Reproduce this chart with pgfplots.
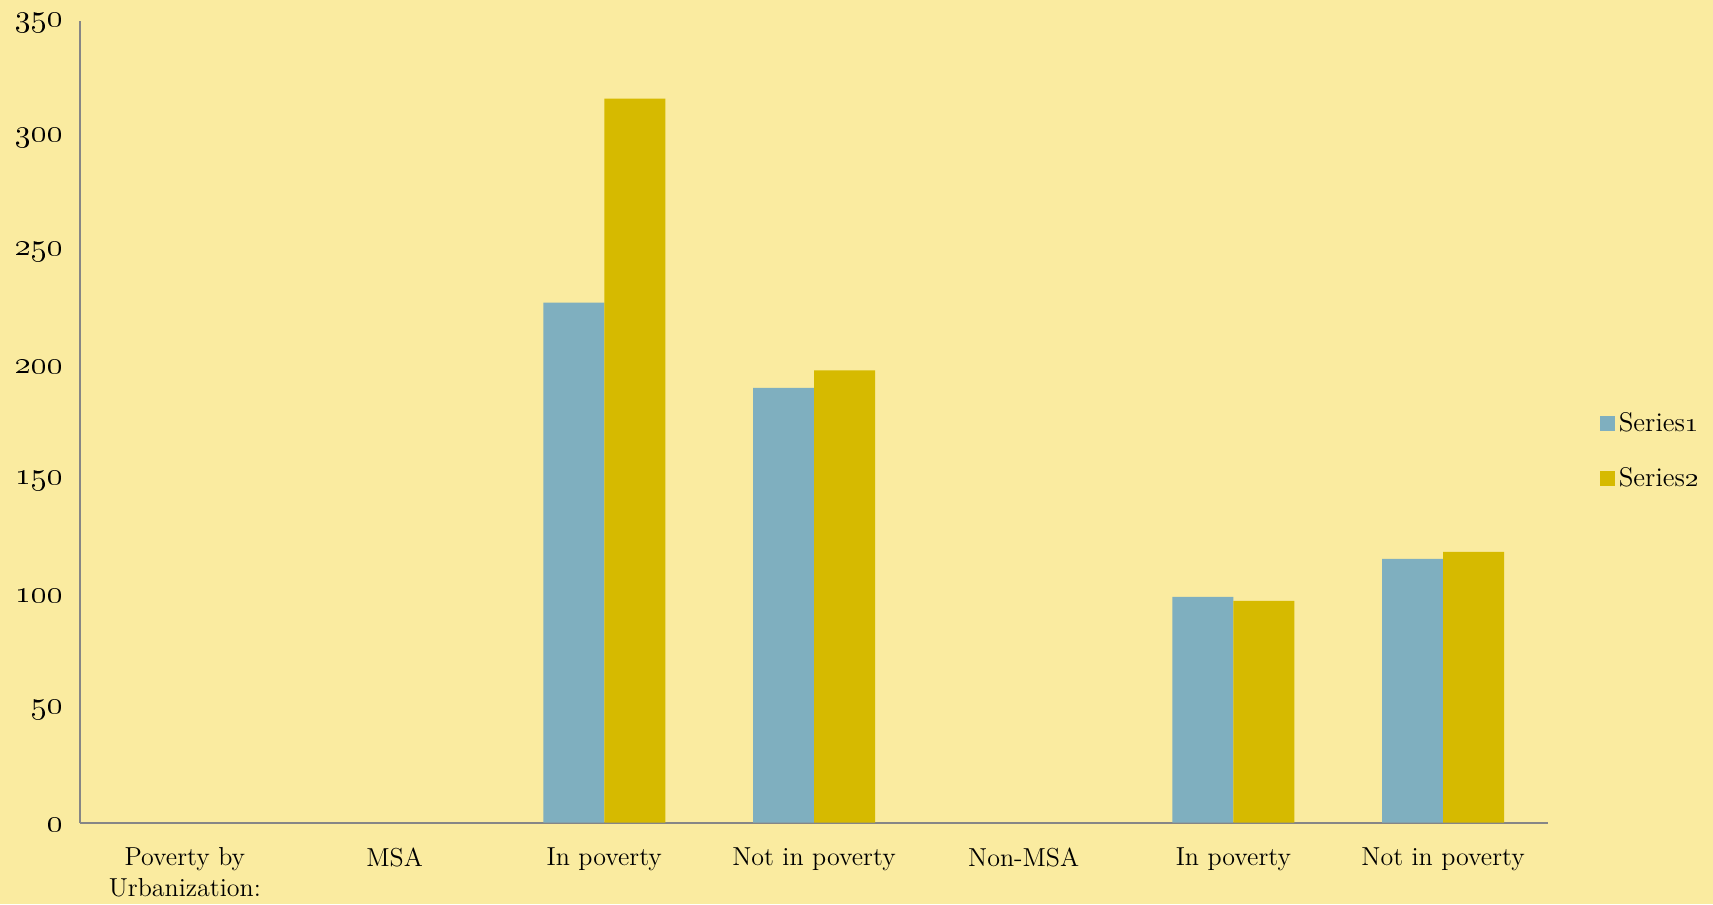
\RequirePackage{fix-cm}
\documentclass[border=0pt]{standalone}
\usepackage{pgfplots}
\pgfplotsset{compat=1.18}
\definecolor{bg}{HTML}{FAEBA0}
\definecolor{sone}{HTML}{7FAFBF}
\definecolor{stwo}{HTML}{D6BA00}
\definecolor{axgray}{HTML}{868686}
\begin{document}
\begin{tikzpicture}
\fill[bg] (-40pt,-40.65pt) rectangle (816.5pt,411.35pt);
\begin{axis}[
  at={(0pt,0pt)}, anchor=south west,
  scale only axis, width=734pt, height=401pt,
  ybar=0pt, bar width=30.5pt,
  xmin=-0.5, xmax=6.5, ymin=0, ymax=350,
  axis x line=bottom, axis y line=left,
  axis line style={-, draw=axgray, line width=1pt},
  xtick={0,1,2,3,4,5,6},
  xticklabels={{Poverty by\\Urbanization:},MSA,In poverty,Not in poverty,Non-MSA,In poverty,Not in poverty},
  x tick label style={align=center, font=\fontsize{13}{15.5}\selectfont, yshift=-9pt},
  ytick={0,50,100,150,200,250,300,350},
  yticklabels={\oldstylenums{0},\oldstylenums{50},\oldstylenums{100},\oldstylenums{150},\oldstylenums{200},\oldstylenums{250},\oldstylenums{300},\oldstylenums{350}},
  y tick label style={font=\fontsize{16}{18}\selectfont, xshift=-5pt, yshift=-1pt},
  major tick length=0pt,
  legend style={at={(1.035,0.463)}, anchor=west, draw=none, fill=none,
    font=\fontsize{13.5}{15}\selectfont, row sep=12.5pt, inner sep=0pt},
  legend cell align=left,
  legend image code/.code={\fill (0pt,-3.75pt) rectangle (7.5pt,3.75pt);},
]
\addplot[fill=sone, draw=none] coordinates {(2,227) (3,189.8) (5,98.5) (6,115.1)};
\addplot[fill=stwo, draw=none] coordinates {(2,316) (3,197.4) (5,96.8) (6,118.2)};
\legend{Series\oldstylenums{1},Series\oldstylenums{2}}
\end{axis}
\end{tikzpicture}
\end{document}
